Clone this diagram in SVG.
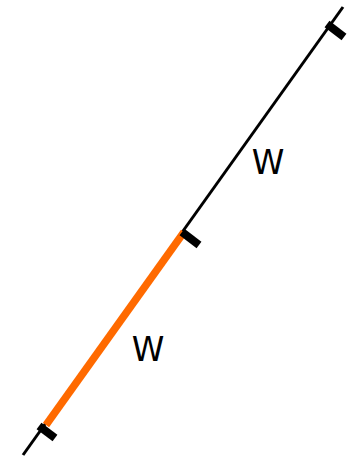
<svg xmlns="http://www.w3.org/2000/svg" width="358" height="458" viewBox="0 0 358 458">
<style>
.ln{stroke:#000;stroke-width:3;fill:none}
.seg{stroke:#ff6a00;stroke-width:7.5;fill:none}
.tick{stroke:#000;stroke-width:8;fill:none}
.lbl{font-family:"DejaVu Sans",sans-serif;font-size:33px;fill:#000;text-anchor:middle}
</style>
<rect width="358" height="458" fill="#fff"/>
<g id="line">
<line class="ln" x1="343" y1="7" x2="23" y2="455"/>
<line class="seg" x1="184" y1="232" x2="46" y2="425"/>
</g>
<g id="ticks">
<line class="tick" x1="327" y1="24" x2="344" y2="37"/>
<line class="tick" x1="182" y1="232" x2="199" y2="245"/>
<line class="tick" x1="39" y1="426" x2="55" y2="438"/>
</g>
<g id="labels">
<text class="lbl" x="268" y="174">W</text>
<text class="lbl" x="148" y="361">W</text>
</g>
</svg>
